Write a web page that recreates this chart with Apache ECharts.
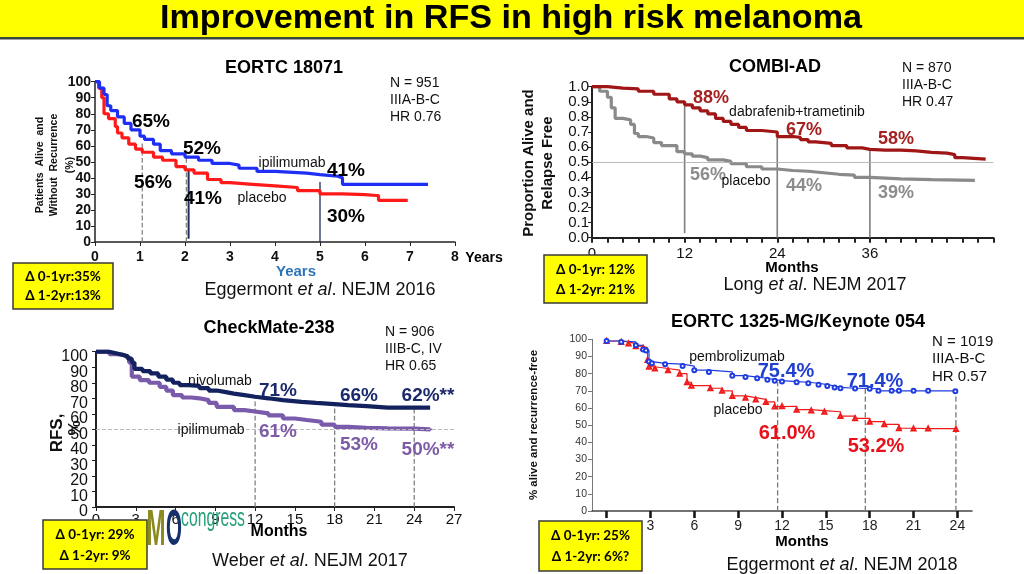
<!DOCTYPE html>
<html><head><meta charset="utf-8">
<script src="https://cdn.jsdelivr.net/npm/echarts@6/dist/echarts.min.js"></script>
<style>html,body{margin:0;padding:0;background:#fff}#c{width:1024px;height:574px}</style>
</head><body><div id="c"></div>
<script>
// ---------- DATA ----------
// Panel 1: EORTC 18071 (years, %)
const eortcIpiT = [0, 0.1, 0.2, 0.27, 0.35, 0.5, 0.65, 0.8, 1.0, 1.1, 1.3, 1.45, 1.7, 2.0, 2.3, 2.6, 3.0, 3.2, 3.6, 4.0, 4.7, 5.0, 5.4, 5.5, 7.4];
const eortcIpiV = [100, 96, 92, 85, 82, 78, 74, 70, 66, 64, 61, 57, 55, 53, 51, 49, 48, 46, 44, 43, 42, 41, 40, 36, 36];
const eortcPlaT = [0, 0.08, 0.15, 0.2, 0.3, 0.45, 0.5, 0.6, 0.75, 0.9, 1.05, 1.3, 1.5, 1.8, 2.0, 2.2, 2.5, 2.8, 3.0, 3.5, 4.0, 4.5, 5.0, 5.5, 6.0, 6.25, 6.3, 6.95];
const eortcPlaV = [100, 96, 90, 80, 77, 72, 68, 65, 61, 58, 56, 53, 51, 47, 45, 43, 39, 37, 36, 35, 34, 32, 30, 29.5, 29, 29, 26, 26];
const eortcMarkX = [1.05, 2.03, 2.08, 5.0];
const eortcMarkTop = [62, 53, 45, 37.5];
const eortcMarkBottom = [0, 0, 2, 0];

// Panel 2: COMBI-AD (months, proportion)
const combiDtT = [0, 2, 4, 6, 8, 10, 11, 12, 13, 14, 15, 16, 17, 18, 19, 20, 22, 24, 26, 27, 28, 29, 31, 33, 35, 36, 38, 40, 42, 44, 46, 47, 48, 51];
const combiDtV = [1.0, 0.99, 0.985, 0.97, 0.95, 0.92, 0.9, 0.88, 0.86, 0.84, 0.82, 0.79, 0.77, 0.75, 0.73, 0.71, 0.70, 0.67, 0.665, 0.65, 0.635, 0.625, 0.61, 0.595, 0.585, 0.58, 0.58, 0.575, 0.565, 0.56, 0.55, 0.53, 0.52, 0.52];
const combiPbT = [0, 1, 2, 2.5, 3, 4, 5, 5.5, 6, 7, 8, 9, 10, 11, 12, 13, 14, 15, 17, 18, 20, 22, 24, 26, 28, 30, 32, 34, 36, 40, 44, 49.6];
const combiPbV = [1.0, 0.97, 0.93, 0.86, 0.79, 0.78, 0.75, 0.69, 0.67, 0.66, 0.63, 0.61, 0.61, 0.57, 0.555, 0.54, 0.53, 0.515, 0.505, 0.49, 0.47, 0.455, 0.445, 0.44, 0.43, 0.42, 0.415, 0.40, 0.39, 0.385, 0.38, 0.38];
const combiMarkX = [12, 24, 36];
const combiMarkTop = [0.88, 0.67, 0.58];
const combiMarkBottom = [0.03, 0, 0];
const combiLabels = [0, 12, 24, 36];

// Panel 3: CheckMate-238 (months, %)
const cmNivoT = [0, 1, 1.5, 2, 2.4, 2.7, 2.9, 3.5, 4.1, 4.7, 5.3, 5.8, 6.3, 7, 7.8, 8.5, 9.1, 9.8, 10.4, 11.2, 12, 13, 14.1, 15.5, 16.6, 18, 19, 20.4, 22, 24, 25.2];
const cmNivoV = [100, 99, 98, 97, 95.5, 93, 89, 87.5, 86, 84, 82, 80, 78.5, 78, 76.5, 75, 74, 73, 72, 71, 70, 68.8, 67.7, 67, 66.3, 65.6, 65, 64, 64, 64, 64];
const cmIpiT = [0, 1, 1.5, 2, 2.3, 2.5, 2.7, 3.3, 4, 4.8, 5.3, 5.8, 6.5, 7.2, 7.8, 8.5, 9.1, 10.4, 11.2, 12, 13, 14.1, 15, 15.9, 17, 18, 19, 20.4, 22, 24, 25.2];
const cmIpiV = [100, 98.5, 98, 97, 96, 93, 84, 81.7, 80, 77.4, 75, 72, 70.5, 70, 68.8, 67, 64.5, 62.4, 61.5, 60.3, 59, 57, 56, 54.9, 53, 51.6, 51, 50.6, 50.5, 50, 50.5];
const cmMarkX = [12, 18, 24];
const cmMarkTop = [70, 66, 64];
const cmYTicks = [0, 10, 20, 30, 40, 50, 60, 70, 80, 90, 100];

// Panel 4: EORTC 1325-MG / Keynote 054 (months, %)
const knPemT = [0, 1, 2, 2.5, 2.7, 2.9, 3.1, 4, 5.2, 6, 7, 8.6, 9.5, 10.3, 11, 11.5, 12, 13, 13.8, 14.5, 15.1, 15.6, 16, 17, 18, 18.6, 19.5, 20, 21, 22, 23.86];
const knPemV = [99, 98.5, 96.5, 94, 93.5, 87, 86, 85.5, 84.4, 82, 81, 78.8, 78, 77.3, 76.5, 75.9, 75.4, 75, 74.4, 73.6, 72.8, 72, 71.5, 71.4, 71.2, 70, 70, 70, 70, 70, 69.8];
const knPlaT = [0, 1, 1.5, 2, 2.5, 2.8, 2.9, 3.3, 4.2, 5, 5.5, 5.8, 7.1, 7.9, 8.6, 9.5, 10.2, 10.9, 11.5, 12, 13, 14, 14.9, 16, 17, 18, 19, 20, 21, 22, 23.9];
const knPlaV = [99, 98.5, 97.5, 96, 95, 88, 84, 83, 82, 80, 75, 73, 71.5, 70, 67, 66, 65, 63.5, 60.8, 61, 59, 58.5, 57.8, 55.3, 54, 52, 50.5, 48.2, 48, 48, 47.8];
const knMarkX = [11.7, 17.7, 23.9];
const knMarkTop = [75, 71.5, 70];
const knTicks = [0, 3, 6, 9, 12, 15, 18, 21, 24];
const knLabels = [3, 6, 9, 12, 15, 18, 21, 24];

// ---------- HELPERS ----------
const zip = (a, b) => a.map((v, i) => [v, b[i]]);
const F = '"Liberation Sans", Arial, sans-serif';
const BOX = 'Lato, "Open Sans", sans-serif';
const mctx = document.createElement('canvas').getContext('2d');
function fitScale(text, font, width) { mctx.font = font; return width / mctx.measureText(text).width; }
function T(text, x, y, font, fill, extra) {
  return Object.assign({ type: 'text', x: x, y: y, z: 50,
    style: { text: text, font: font, fill: fill || '#000', align: 'center', verticalAlign: 'middle' } }, extra || {});
}
function L(text, x, y, font, lh) {
  return { type: 'text', x: x, y: y, z: 50, style: { text: text, font: font, fill: '#111', align: 'left', verticalAlign: 'top', lineHeight: lh } };
}
function RT(text, x, y, font, fill) { return T(text, x, y, font, fill, { rotation: Math.PI / 2 }); }
function cite(a, b, x, y) {
  return { type: 'text', x: x, y: y, z: 50, style: {
    text: '{n|' + a + ' }{i|et al}{n|. ' + b + '}', align: 'center', verticalAlign: 'middle',
    rich: { n: { font: '18px ' + F, fill: '#111' }, i: { font: 'italic 18px ' + F, fill: '#111' } } } };
}
function box(x, y, w, h, l1, l2) {
  return [
    { type: 'rect', z: 60, shape: { x: x, y: y, width: w, height: h }, style: { fill: '#ffff00', stroke: '#3a3a3a', lineWidth: 1.5 } },
    T(l1, x + w / 2, y + h * 0.3, 'bold 13.5px ' + BOX, '#000', { z: 61 }),
    T(l2, x + w / 2, y + h * 0.72, 'bold 13.5px ' + BOX, '#000', { z: 61 })
  ];
}
function km(name, T_, V_, idx, color, width, extra) {
  return Object.assign({ type: 'line', name: name, xAxisIndex: idx, yAxisIndex: idx, data: zip(T_, V_), step: 'end',
    showSymbol: false, silent: true, animation: false, lineStyle: { color: color, width: width }, itemStyle: { color: color } }, extra || {});
}
function marks(xs, tops, bottoms, idx, color, types, width) {
  return xs.map((x, i) => ({ type: 'line', xAxisIndex: idx, yAxisIndex: idx, silent: true, animation: false, showSymbol: false, z: 1,
    data: [[x, bottoms[i]], [x, tops[i]]],
    lineStyle: { color: (Array.isArray(color) ? color[i] : color), width: (Array.isArray(width) ? width[i] : width), type: types[i] } }));
}
function vAxis(idx, min, max, interval, label, line, tick) {
  return { type: 'value', gridIndex: idx, min: min, max: max, interval: interval, splitLine: { show: false },
    axisLine: Object.assign({ show: true, onZero: false, lineStyle: { color: '#222', width: 1.5 } }, line || {}),
    axisTick: Object.assign({ show: true, length: 4, lineStyle: { color: '#222' } }, tick || {}),
    axisLabel: Object.assign({ showMinLabel: true, showMaxLabel: true, hideOverlap: false }, label) };
}

// ---------- OPTION ----------
const grids = [
  { left: 95, top: 81.7, width: 360, height: 160.3 },
  { left: 592, top: 86.7, width: 401.4, height: 151 },
  { left: 96, top: 351.7, width: 358, height: 155.3 },
  { left: 592, top: 339.3, width: 380, height: 171.7 }
];

const xAxes = [
  vAxis(0, 0, 8, 1, { fontFamily: F, fontWeight: 'bold', fontSize: 14, color: '#111', margin: 8 }),
  vAxis(1, 0, 52, 2, { fontFamily: F, fontSize: 15, color: '#111', margin: 9, customValues: combiLabels },
    { lineStyle: { color: '#222', width: 2 } }, { length: 5, lineStyle: { color: '#222', width: 2 } }),
  vAxis(2, 0, 27, 3, { fontFamily: F, fontSize: 15, color: '#111', margin: 5 }, { lineStyle: { color: '#222', width: 2 } }),
  { type: 'value', gridIndex: 3, min: -1, max: 25, splitLine: { show: false },
    axisLine: { show: true, onZero: false, lineStyle: { color: '#444', width: 1.5 } },
    axisTick: { show: true, customValues: knTicks, length: 7, lineStyle: { color: '#111', width: 2.5 } },
    axisLabel: { customValues: knLabels, fontFamily: F, fontSize: 14, color: '#222', margin: 8 } }
];
const yAxes = [
  vAxis(0, 0, 100, 10, { fontFamily: F, fontWeight: 'bold', fontSize: 14, color: '#111', margin: 4 }),
  vAxis(1, 0, 1, 0.1, { fontFamily: F, fontSize: 15, color: '#111', margin: 3, formatter: v => v.toFixed(1) }, { lineStyle: { color: '#222', width: 2 } }),
  vAxis(2, 0, 100, 10, { show: false }, { lineStyle: { color: '#222', width: 2 } }),
  vAxis(3, 0, 100, 10, { fontFamily: F, fontSize: 10.5, color: '#333', margin: 5 }, { lineStyle: { color: '#777', width: 1 } }, { length: 4, lineStyle: { color: '#777' } })
];

const series = [].concat(
  marks(eortcMarkX, eortcMarkTop, eortcMarkBottom, 0, ['#7a7a7a', '#7a7a7a', '#1f2d5a', '#1f2d5a'], ['dashed', 'dashed', 'solid', 'solid'], [1.2, 1.2, 2, 1.3]),
  [km('placebo', eortcPlaT, eortcPlaV, 0, '#ff1a1a', 3.2), km('ipilimumab', eortcIpiT, eortcIpiV, 0, '#1f2ef5', 3.2)],
  marks(combiMarkX, combiMarkTop, combiMarkBottom, 1, '#7f7f7f', ['solid', 'solid', 'solid'], 1.6),
  [km('placebo', combiPbT, combiPbV, 1, '#8a8a8a', 3.2, { markLine: { silent: true, symbol: 'none', label: { show: false }, lineStyle: { color: '#aaa', width: 0.8, type: 'solid' }, data: [{ yAxis: 0.5 }] } }),
   km('dabrafenib+trametinib', combiDtT, combiDtV, 1, '#a01616', 3.2)],
  marks(cmMarkX, cmMarkTop, [0, 0, 0], 2, '#777', ['dashed', 'dashed', 'dashed'], 1.2),
  [km('ipilimumab', cmIpiT, cmIpiV, 2, '#7a5aab', 4.2, { markLine: { silent: true, symbol: 'none', label: { show: false }, lineStyle: { color: '#bbb', width: 1, type: 'dashed' }, data: [{ yAxis: 50 }] } }),
   km('nivolumab', cmNivoT, cmNivoV, 2, '#13225e', 4.2)],
  marks(knMarkX, knMarkTop, [0, 0, 0], 3, '#777', ['dashed', 'dashed', 'dashed'], 1.3),
  [km('placebo', knPlaT, knPlaV, 3, '#f01a1a', 1.2, { showSymbol: true, symbol: 'emptyTriangle', symbolSize: 4 }),
   km('pembrolizumab', knPemT, knPemV, 3, '#1e3ce0', 1.2, { showSymbol: true, symbol: 'emptyCircle', symbolSize: 4 })]
);

const chart = echarts.init(document.getElementById('c'), null, { renderer: 'canvas' });
chart.setOption({
  animation: false,
  backgroundColor: '#ffffff',
  grid: grids,
  xAxis: xAxes,
  yAxis: yAxes,
  series: series
});

// Panel 3 y tick labels, placed through the axis scale
const cmYLabels = cmYTicks.map(v => ({
  type: 'text', z: 50, x: 88, y: chart.convertToPixel({ yAxisIndex: 2 }, v) + 5,
  style: { text: String(v), font: '16px ' + F, fill: '#111', align: 'right', verticalAlign: 'middle' }
}));

const titleFont = 'bold 34px ' + F;
const mFont = 'bold 50px ' + F;
const cFont = '25px ' + F;

const graphic = [].concat(
  [
    { type: 'rect', z: 40, shape: { x: 0, y: 0, width: 1024, height: 37 }, style: { fill: '#ffff00' } },
    { type: 'rect', z: 40, shape: { x: 0, y: 37, width: 1024, height: 2.5 }, style: { fill: '#3b473b' } },
    T('Improvement in RFS in high risk melanoma', 511, 19, titleFont, '#000', { scaleX: fitScale('Improvement in RFS in high risk melanoma', titleFont, 702) }),

    // Panel 1
    T('EORTC 18071', 284, 68, 'bold 18px ' + F),
    L('N = 951\nIIIA-B-C\nHR 0.76', 390, 75, '14px ' + F, 17),
    RT('Patients  Alive  and', 40, 165, 'bold 10.5px ' + F, '#111'),
    RT('Without  Recurrence', 54, 165, 'bold 10.5px ' + F, '#111'),
    RT('(%)', 70, 165, 'bold 10.5px ' + F, '#111'),
    T('Years', 484, 258, 'bold 14px ' + F),
    T('Years', 296, 272, 'bold 15px ' + F, '#2e75b6'),
    cite('Eggermont', 'NEJM 2016', 320, 290),
    T('65%', 151, 122, 'bold 19px ' + F),
    T('56%', 153, 183, 'bold 19px ' + F),
    T('52%', 202, 149, 'bold 19px ' + F),
    T('41%', 203, 199, 'bold 19px ' + F),
    T('41%', 346, 171, 'bold 19px ' + F),
    T('30%', 346, 217, 'bold 19px ' + F),
    T('ipilimumab', 292, 163, '14px ' + F, '#111'),
    T('placebo', 262, 198, '14px ' + F, '#111'),

    // Panel 2
    T('COMBI-AD', 775, 67, 'bold 18px ' + F),
    L('N = 870\nIIIA-B-C\nHR 0.47', 902, 60, '14px ' + F, 17),
    RT('Proportion Alive and', 529, 163, 'bold 15px ' + F, '#111'),
    RT('Relapse Free', 548, 163, 'bold 15px ' + F, '#111'),
    T('Months', 792, 268, 'bold 15px ' + F),
    cite('Long', 'NEJM 2017', 815, 285),
    T('88%', 711, 98, 'bold 18px ' + F, '#a52222'),
    T('67%', 804, 130, 'bold 18px ' + F, '#a52222'),
    T('58%', 896, 139, 'bold 18px ' + F, '#a52222'),
    T('56%', 708, 175, 'bold 18px ' + F, '#8c8c8c'),
    T('44%', 804, 186, 'bold 18px ' + F, '#8c8c8c'),
    T('39%', 896, 193, 'bold 18px ' + F, '#8c8c8c'),
    T('dabrafenib+trametinib', 797, 112, '14px ' + F, '#111'),
    T('placebo', 746, 181, '14px ' + F, '#111'),

    // Panel 3
    T('CheckMate-238', 269, 328, 'bold 18px ' + F),
    L('N = 906\nIIIB-C, IV\nHR 0.65', 385, 324, '14px ' + F, 17),
    RT('RFS,', 57, 433, 'bold 17px ' + F, '#111'),
    RT('%', 75, 428, 'bold 17px ' + F, '#111'),
    T('Months', 279, 532, 'bold 16px ' + F),
    cite('Weber', 'NEJM 2017', 310, 561),
    T('M', 156, 531, mFont, '#8a8a1e', { z: 45, scaleX: fitScale('M', mFont, 19) }),
    T('O', 174, 531, mFont, '#15306b', { z: 45, scaleX: fitScale('O', mFont, 16) }),
    T('congress', 213, 519, cFont, '#26a07a', { z: 45, scaleX: fitScale('congress', cFont, 64) }),
    T('nivolumab', 220, 381, '14px ' + F, '#111'),
    T('71%', 278, 391, 'bold 19px ' + F, '#1b2a6b'),
    T('66%', 359, 396, 'bold 19px ' + F, '#1b2a6b'),
    T('62%**', 428, 396, 'bold 19px ' + F, '#1b2a6b'),
    T('ipilimumab', 211, 430, '14px ' + F, '#111'),
    T('61%', 278, 432, 'bold 19px ' + F, '#7d5ba6'),
    T('53%', 359, 445, 'bold 19px ' + F, '#7d5ba6'),
    T('50%**', 428, 450, 'bold 19px ' + F, '#7d5ba6'),

    // Panel 4
    T('EORTC 1325-MG/Keynote 054', 798, 322, 'bold 18px ' + F),
    L('N = 1019\nIIIA-B-C\nHR 0.57', 932, 333, '15px ' + F, 17.5),
    RT('% alive and recurrence-free', 534, 425, 'bold 11.5px ' + F, '#111'),
    T('Months', 802, 542, 'bold 15px ' + F),
    cite('Eggermont', 'NEJM 2018', 842, 565),
    T('pembrolizumab', 737, 357, '14px ' + F, '#111'),
    T('75.4%', 786, 371, 'bold 20px ' + F, '#2040d0'),
    T('71.4%', 875, 381, 'bold 20px ' + F, '#2040d0'),
    T('placebo', 738, 410, '14px ' + F, '#111'),
    T('61.0%', 787, 433, 'bold 20px ' + F, '#e8101a'),
    T('53.2%', 876, 446, 'bold 20px ' + F, '#e8101a')
  ],
  cmYLabels,
  box(13, 263, 100, 46, '\u0394 0-1yr:35%', '\u0394 1-2yr:13%'),
  box(544, 255, 103, 48, '\u0394 0-1yr: 12%', '\u0394 1-2yr: 21%'),
  box(43, 520, 104, 49, '\u0394 0-1yr: 29%', '\u0394 1-2yr: 9%'),
  box(539, 521, 103, 50, '\u0394 0-1yr: 25%', '\u0394 1-2yr: 6%?')
);

chart.setOption({ graphic: graphic });
</script></body></html>
